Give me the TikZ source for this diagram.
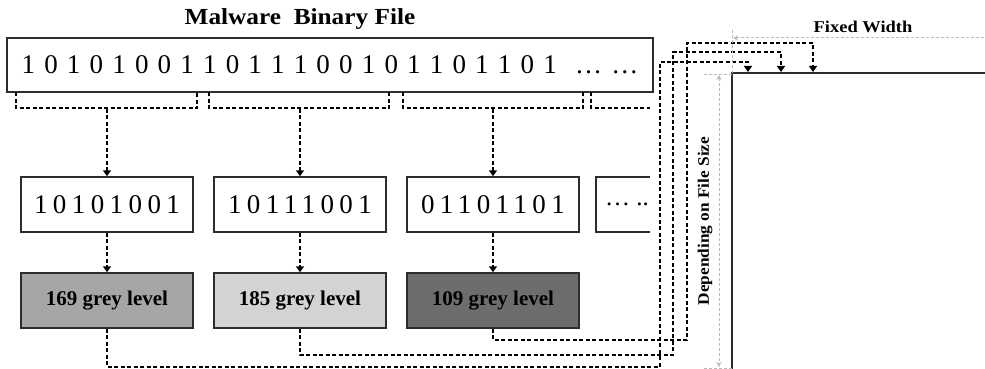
\documentclass[tikz,border=0pt]{standalone}
\usepackage{graphicx}
\usepackage{fontspec}
\setmainfont{Liberation Serif}
\newfontfamily\bitfont[LetterSpace=20]{Liberation Serif}
\newfontfamily\rowfont[LetterSpace=9]{Liberation Serif}
\usetikzlibrary{arrows.meta}
\usetikzlibrary{positioning}
\definecolor{lvlA}{RGB}{166,166,166}
\definecolor{lvlB}{RGB}{211,211,211}
\definecolor{lvlC}{RGB}{109,109,109}
\definecolor{edge}{RGB}{45,45,45}
\definecolor{dim}{RGB}{185,185,185}
\tikzset{
    bytebox/.style={draw=edge, line width=1.5pt, minimum width=172pt, minimum height=55pt, inner sep=0pt},
    greybox/.style={bytebox, font=\fontsize{21}{21}\selectfont\bfseries},
    link/.style={draw=black, line width=1.5pt, dash pattern=on 4pt off 2.5pt},
    feed/.style={link, -{Triangle[width=8pt,length=6pt]}},
    dimline/.style={draw=dim, line width=1pt, dash pattern=on 3pt off 2pt},
    dimtip/.style={dimline, {Stealth[width=5pt,length=5pt]}-{Stealth[width=5pt,length=5pt]}},
    frame/.style={draw=edge, line width=1.6pt},
}

\begin{document}
\begin{tikzpicture}[x=1pt, y=-1pt]
    \useasboundingbox (0,0) rectangle (985,369);
    % binary file
    \node[font=\fontsize{23}{23}\selectfont\bfseries] (title) at (300,19) {\scalebox{1.1}[1]{Malware\ \ Binary File}};
    \node[draw=edge, line width=1.5pt, minimum width=646pt, minimum height=54pt, inner sep=0pt,
        font=\fontsize{27}{27}\rowfont] (file) at (330,65)
        {1 0 1 0 1 0 0 1 1 0 1 1 1 0 0 1 0 1 1 0 1 1 0 1 \ … …};
    % bytes and grey levels
    \node[bytebox, font=\fontsize{27}{27}\bitfont] (byte1) at (107,204.5) {10101001};
    \node[bytebox, font=\fontsize{27}{27}\bitfont] (byte2) at (300,204.5) {10111001};
    \node[bytebox, font=\fontsize{27}{27}\bitfont] (byte3) at (493,204.5) {01101101};
    \draw[draw=edge, line width=1.5pt] (650,177) -- (596,177) -- (596,232) -- (650,232);
    \node[font=\fontsize{25}{25}\selectfont] (more) at (627,204.5) {… ..};
    \node[greybox, fill=lvlA] (grey1) at (107,300.5) {169 grey level};
    \node[greybox, fill=lvlB] (grey2) at (300,300.5) {185 grey level};
    \node[greybox, fill=lvlC] (grey3) at (493,300.5) {109 grey level};
    % brackets
    \foreach \l/\r/\n in {16/197/1, 209/389/2, 403/583/3} {
        \draw[link] (\l,92) -- (\l,108) -- (\r,108) -- (\r,92);
        \draw[feed] ([yshift=-16pt]byte\n.north |- file.south) -- (byte\n.north);
        \draw[feed] (byte\n.south) -- (grey\n.north);
    }
    \draw[link] (591,92) -- (591,108) -- (650,108);
    % image
    \coordinate (img) at (732,73);
    \draw[frame] (985,73) -- (img) -- (732,369);
    \coordinate (pix1) at (748,72);
    \coordinate (pix2) at (781,72);
    \coordinate (pix3) at (813,72);
    \foreach \n/\y/\x/\t in {1/367/660/62, 2/355/673/52, 3/340/687/43}
        \draw[feed] (grey\n.south) |- (\x,\y) |- (pix\n |- 0,\t) -- (pix\n);
    % dimensions
    \draw[dimline] (732,30) -- (img);
    \draw[dimline, {Stealth[width=5pt,length=5pt]}-] (733,38) -- (985,38);
    \draw[dimline] (704,75) -- (732,75);
    \draw[dimline] (704,368) -- (732,368);
    \draw[dimtip] (719,75) -- (719,367);
    \node[font=\fontsize{16.5}{16.5}\selectfont\bfseries] (width) at (863,27) {\scalebox{1.12}[1]{Fixed Width}};
    \node[rotate=90, font=\fontsize{16}{16}\selectfont\bfseries] (height) at (705,221) {\scalebox{1.08}[1]{Depending on File Size}};
\end{tikzpicture}
\end{document}
